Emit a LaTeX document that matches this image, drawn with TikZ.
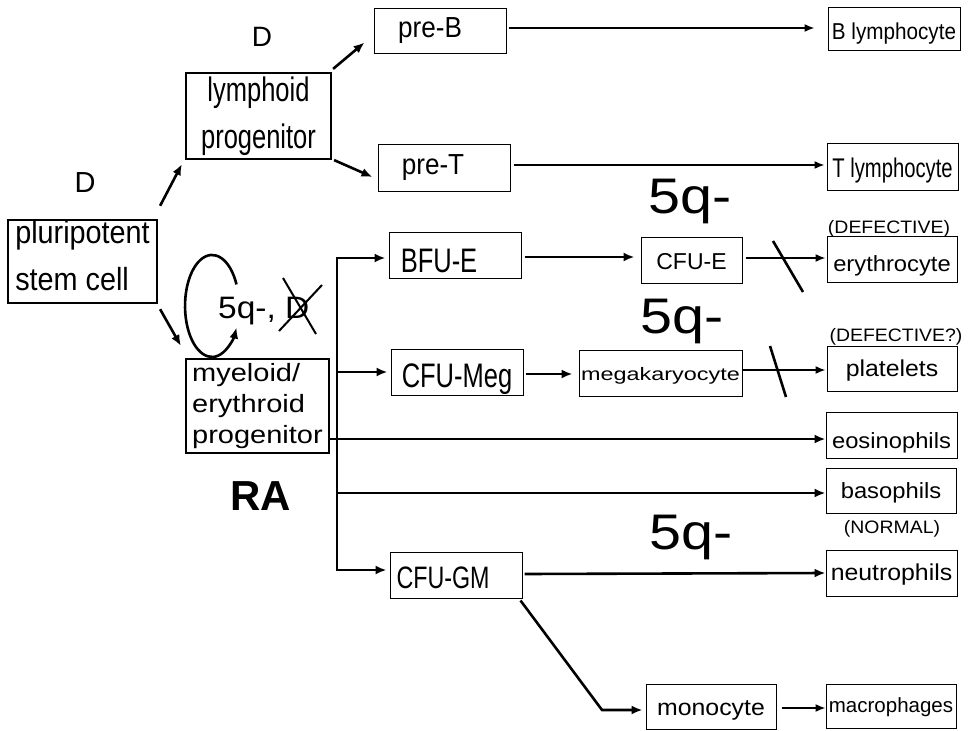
\documentclass[tikz,border=0pt]{standalone}
\usepackage{fontspec}
\setmainfont{Liberation Sans}
\newfontfamily\fntN[FakeStretch=0.75]{Liberation Sans}
\newfontfamily\fntP[FakeStretch=0.9]{Liberation Sans}
\newfontfamily\fntS{Liberation Sans}
\newfontfamily\fntR[FakeStretch=1.08]{Liberation Sans}
\newfontfamily\fntW[FakeStretch=1.16]{Liberation Sans}
\newfontfamily\fntM[FakeStretch=1.3]{Liberation Sans}
\newfontfamily\fntQ[FakeStretch=1.15]{Liberation Sans}
\newcommand\fsz[2]{\fontsize{#1}{#2}\selectfont}
\usetikzlibrary{arrows.meta,calc}
\begin{document}
\begin{tikzpicture}[x=1pt,y=-1pt,
  box/.style={draw, line width=1pt, inner sep=0pt, rectangle, text depth=0pt},
  tbox/.style={draw, line width=2.2pt, inner sep=0pt, rectangle},
  lbl/.style={inner sep=0pt, anchor=base},
  arr/.style={line width=2.6pt, -{Latex[length=11pt,width=9pt]}},
  tarr/.style={line width=1.6pt, -{Latex[length=10pt,width=8pt]}},
  cut/.style={line width=2.6pt}]
\useasboundingbox (0,0) rectangle (973,730);

% boxes with several lines
\node[tbox, minimum width=149pt, minimum height=83pt, align=left, font={\fntP\fsz{32}{47}}] (plur) at (82.5,261.5) {pluripotent\\stem cell\rule[-13pt]{0pt}{0pt}};
\node[tbox, minimum width=145pt, minimum height=86pt, align=center, font={\fntN\fsz{34}{47}}] (lymph) at (258.5,116) {lymphoid\\progenitor};
\node[tbox, minimum width=143pt, minimum height=94pt, align=left, font={\fntW\fsz{25}{31}}] (myel) at (257.5,406) {myeloid/\\erythroid\\progenitor};

% single-line boxes
\node[box, minimum width=132pt, minimum height=45pt, font={\fntP\fsz{29}{29}}, text height=13pt] (preB) at (440,31.5) {pre-B\hspace*{20pt}};
\node[box, minimum width=132pt, minimum height=46pt, font={\fntP\fsz{29}{29}}, text height=14pt] (preT) at (444,168) {pre-T\hspace*{22pt}};
\node[box, minimum width=132pt, minimum height=43pt, font={\fntP\fsz{23}{23}}, text height=21pt] (Blym) at (894,29.5) {B lymphocyte};
\node[box, minimum width=131pt, minimum height=46pt, font={\fntN\fsz{27}{27}}, text height=22pt] (Tlym) at (892.5,167) {T lymphocyte};
\node[box, minimum width=132pt, minimum height=46pt, font={\fntN\fsz{34}{34}}, text height=34pt] (BFUE) at (455,255) {BFU-E\hspace*{32pt}};
\node[box, minimum width=101pt, minimum height=46pt, font={\fntS\fsz{23}{23}}, text height=18pt] (CFUE) at (691.5,260) {CFU-E};
\node[box, minimum width=130pt, minimum height=46pt, font={\fntR\fsz{22}{22}}, text height=24pt] (eryth) at (892,259) {erythrocyte};
\node[box, minimum width=132pt, minimum height=46pt, font={\fntN\fsz{34}{34}}, text height=30pt] (CFUMeg) at (457,372) {CFU-Meg};
\node[box, minimum width=163pt, minimum height=46pt, font={\fntM\fsz{18}{18}}, text height=14pt] (megak) at (660.5,373) {megakaryocyte};
\node[box, minimum width=130pt, minimum height=45pt, font={\fntR\fsz{23}{23}}, text height=15pt] (plat) at (892,368.5) {platelets};
\node[box, minimum width=131pt, minimum height=46pt, font={\fntR\fsz{22}{22}}, text height=26pt] (eos) at (891.5,435) {eosinophils};
\node[box, minimum width=130pt, minimum height=45pt, font={\fntR\fsz{22}{22}}, text height=15pt] (baso) at (891,490.5) {basophils};
\node[box, minimum width=132pt, minimum height=46pt, font={\fntN\fsz{31}{31}}, text height=26pt] (CFUGM) at (456,575) {CFU-GM\hspace*{26pt}};
\node[box, minimum width=131pt, minimum height=46pt, font={\fntR\fsz{23}{23}}, text height=14pt] (neut) at (891.5,573) {neutrophils};
\node[box, minimum width=130pt, minimum height=45pt, font={\fntR\fsz{23}{23}}, text height=17pt] (mono) at (711,706.5) {monocyte};
\node[box, minimum width=130pt, minimum height=44pt, font={\fntS\fsz{20.5}{20.5}}, text height=12pt] (macro) at (891,706) {macrophages};

% free labels
\node[lbl, font={\fntS\fsz{28}{28}}] (dLym) at (262,47) {D};
\node[lbl, font={\fntS\fsz{29}{29}}] (dPlur) at (85,192) {D};
\node[lbl, font={\fntQ\fsz{50}{50}}] (q1) at (690,213) {5q-};
\node[lbl, font={\fntQ\fsz{50}{50}}] (q2) at (682,333) {5q-};
\node[lbl, font={\fntQ\fsz{50}{50}}] (q3) at (691,549) {5q-};
\node[lbl, font={\fntR\fsz{18}{18}}] (def1) at (889,233) {(DEFECTIVE)};
\node[lbl, font={\fntR\fsz{18}{18}}] (def2) at (896,341) {(DEFECTIVE?)};
\node[lbl, font={\fntR\fsz{18}{18}}] (norm) at (892,533) {(NORMAL)};
\node[lbl, font={\fntS\bfseries\fsz{42}{42}}] (ra) at (261,510) {RA};
\node[lbl, anchor=base west, font={\fntR\fsz{31}{31}}] (loopLbl) at (218,318) {5q-, D};

% crossed-out D
\draw[line width=2pt] (283,278) -- (316,334);
\draw[line width=2pt] (279,331) -- (322,285);

% self-renewal loop
\coordinate (loopS) at (236.5,284.4);
\draw[arr] (loopS) arc[start angle=25, end angle=335, x radius=27pt, y radius=51pt];

% lineage arrows
\draw[arr] ([xshift=2pt,yshift=13pt]plur.north east) -- ([xshift=-3pt,yshift=-4pt]lymph.south west);
\draw[arr] ([xshift=2pt,yshift=-5pt]plur.south east) -- ([xshift=-4pt,yshift=12pt]myel.north west);
\draw[arr] ([xshift=1pt,yshift=3pt]lymph.north east) -- ([xshift=-9pt,yshift=12pt]preB.south west);
\draw[arr] ([xshift=2pt]lymph.south east) -- ([xshift=-5pt,yshift=-9pt]preT.west);
\draw[tarr] ([xshift=2pt,yshift=3.5pt]preB.east) -- ([xshift=-13pt,yshift=1.5pt]Blym.west);
\draw[tarr] ([xshift=3pt,yshift=3pt]preT.east) -- ([xshift=-2pt,yshift=2pt]Tlym.west);

% myeloid trunk
\coordinate (tTop) at (337,258);
\coordinate (tBot) at (337,570);
\draw[arr] (tBot) -- (tTop) -- ([xshift=-3pt,yshift=-3pt]BFUE.west);
\draw[arr] (tTop) -- (tBot) -- ([xshift=-3pt,yshift=5pt]CFUGM.west);
\draw[arr] (tTop |- CFUMeg.west) -- ([xshift=-3pt]CFUMeg.west);
\coordinate (eosIn) at ([yshift=-4pt]eos.west);
\draw[arr] (myel.east |- eosIn) -- (eosIn);
\coordinate (basoIn) at ([yshift=-2.5pt]baso.west);
\draw[arr] (tTop |- basoIn) -- (basoIn);

\draw[arr] ([xshift=3pt,yshift=-2pt]BFUE.east) -- ([xshift=-6pt,yshift=3pt]CFUE.west);
\draw[tarr] ([xshift=3pt,yshift=2pt]CFUE.east) -- ([xshift=-1pt,yshift=1pt]eryth.west);
\draw[arr] ([xshift=2pt,yshift=-2pt]CFUMeg.east) -- ([xshift=-6pt,yshift=-1pt]megak.west);
\draw[tarr] ([yshift=3pt]megak.east) -- ([xshift=-1pt,yshift=-1.5pt]plat.west);
\draw[arr] ([xshift=2pt,yshift=1pt]CFUGM.east) -- (neut.west);
\coordinate (mBend) at (602,710);
\draw[arr] ([xshift=-2pt,yshift=-2pt]CFUGM.south east) -- (mBend) -- ([xshift=-3pt,yshift=-3.5pt]mono.west);
\draw[tarr] ([xshift=5pt,yshift=-1.5pt]mono.east) -- ([yshift=-2pt]macro.west);

% block marks
\draw[cut] (773,241) -- (803,292);
\draw[cut] (770,346) -- (786,397);
\end{tikzpicture}
\end{document}
